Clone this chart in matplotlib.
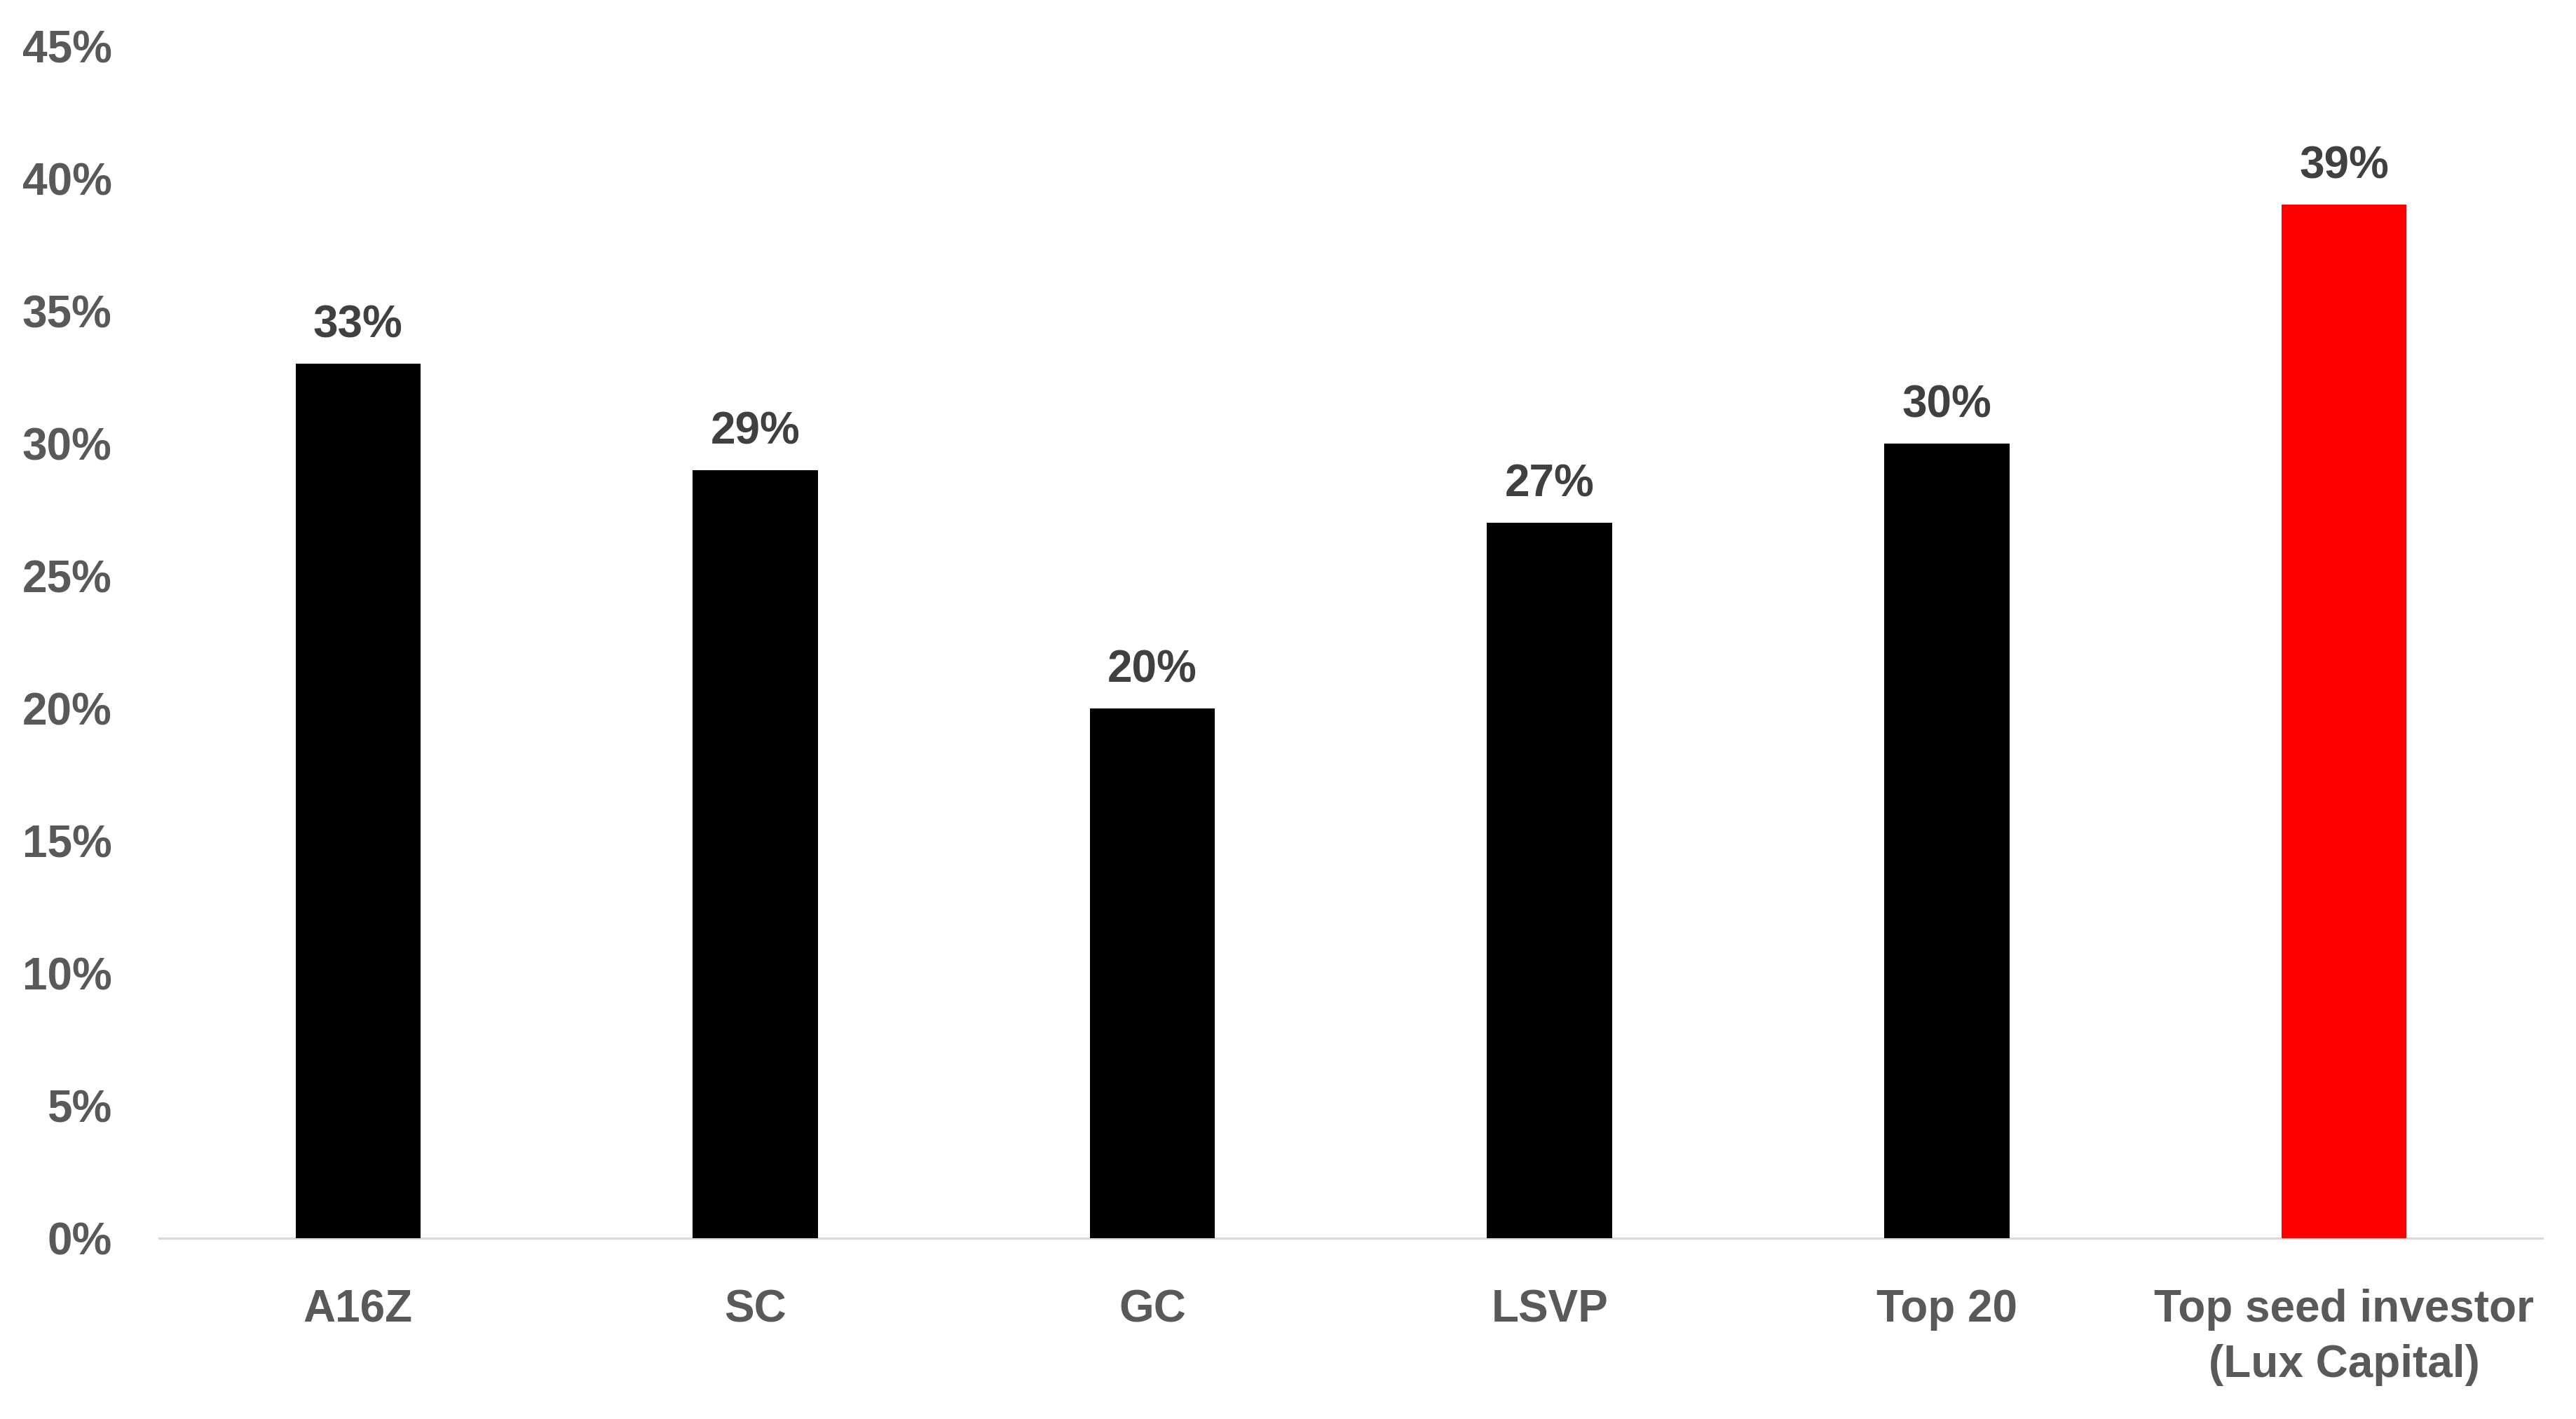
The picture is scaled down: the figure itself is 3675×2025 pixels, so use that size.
import numpy as np
import matplotlib.pyplot as plt
from matplotlib.ticker import PercentFormatter

# data
investors = ['A16Z', 'SC', 'GC', 'LSVP', 'Top 20', 'Top seed investor\n(Lux Capital)']
share = [33, 29, 20, 27, 30, 39]
bar_colors = ['black', 'black', 'black', 'black', 'black', '#ff0000']
yticks = [0, 5, 10, 15, 20, 25, 30, 35, 40, 45]

narrow = ['Liberation Sans Narrow', 'Liberation Sans', 'DejaVu Sans']
plain = ['Liberation Sans', 'DejaVu Sans']

fig = plt.figure(figsize=(36.75, 20.25), dpi=100)
ax = fig.add_axes([0.0619, 0.1273, 0.9251, 0.8403])

x = np.arange(len(investors))
bars = ax.bar(x, share, width=0.315, color=bar_colors, zorder=2)

# value labels above bars
for xi, v in zip(x, share):
    ax.annotate(f'{v}%', (xi, v), xytext=(0, 27), textcoords='offset points',
                ha='center', va='baseline', fontsize=46, fontweight='bold',
                color='#404040', family=plain)

ax.set_xlim(-0.5, len(investors) - 0.5)
ax.set_ylim(0, 45)
ax.set_yticks(yticks)
ax.yaxis.set_major_formatter(PercentFormatter(decimals=0))
ax.set_xticks(x)
ax.set_xticklabels(investors, linespacing=1.4)

for lab in ax.get_xticklabels() + ax.get_yticklabels():
    lab.set_family(narrow)
    lab.set_fontweight('bold')
    lab.set_fontsize(46)
    lab.set_color('#595959')

ax.tick_params(axis='both', length=0)
ax.tick_params(axis='y', pad=49)
ax.tick_params(axis='x', pad=52)

for side in ['top', 'right', 'left']:
    ax.spines[side].set_visible(False)
ax.spines['bottom'].set_color('#d9d9d9')
ax.spines['bottom'].set_linewidth(2.2)
ax.spines['bottom'].set_zorder(1)

plt.savefig('out.png', dpi=100)
